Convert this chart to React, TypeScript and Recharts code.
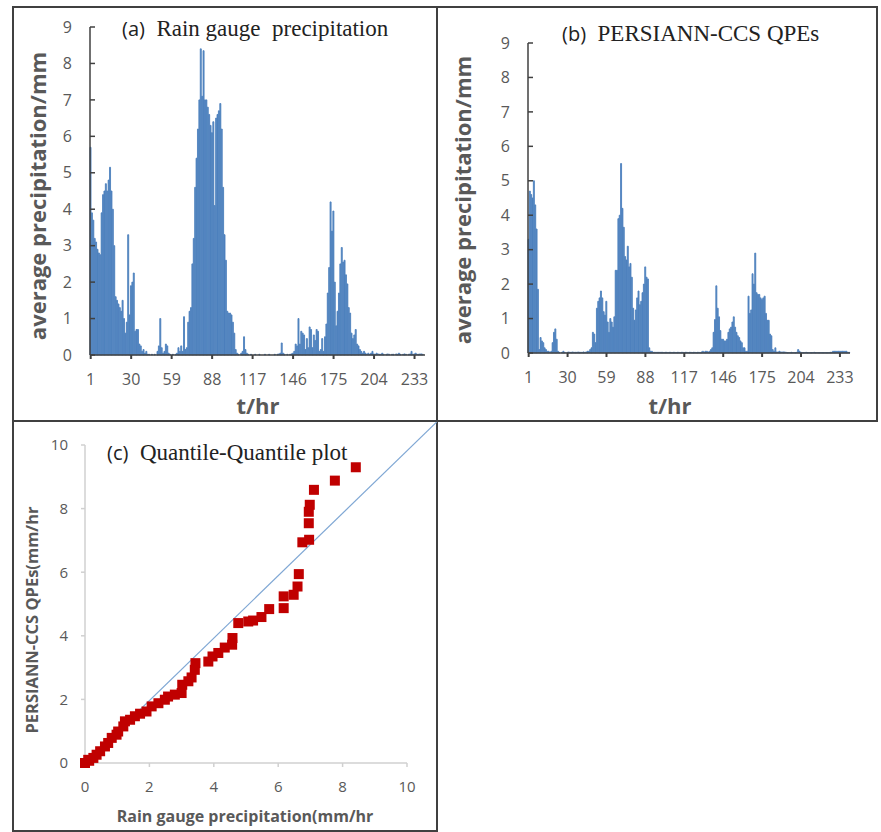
import React from 'react';
import { BarChart, Bar, XAxis, YAxis, ScatterChart, Scatter, ReferenceLine } from 'recharts';

// hourly time steps 1..240
const hours = Array.from({ length: 240 }, (_, i) => i + 1);

// (a) rain gauge average precipitation, mm
const gaugePrecip = [
  5.7, 3.9, 3.7, 3.2, 3.1, 2.9, 2.8, 2.75, 3.9, 4.4, 4.5, 4.7, 4.5, 4.8, 5.15, 4.5, 4.0, 3.0, 1.6, 1.5,
  1.4, 1.3, 1.2, 1.5, 1.0, 0.6, 0.9, 3.3, 1.1, 1.9, 2.0, 2.25, 0.65, 0.7, 0.7, 0.3, 0.25, 0.1, 0.15, 0.05,
  0.1, 0.02, 0.02, 0, 0.02, 0, 0.02, 0, 0.1, 0.25, 1.0, 0.2, 0.05, 0.1, 0.3, 0.25, 0.05, 0.02, 0, 0.02,
  0, 0.02, 0.05, 0.2, 0.1, 0.25, 0.1, 1.05, 0.15, 0.2, 0.9, 1.2, 1.3, 2.5, 3.2, 4.6, 5.4, 6.2, 7.0, 8.4,
  7.1, 8.35, 7.0, 7.0, 6.8, 6.6, 6.3, 6.1, 6.4, 4.1, 6.5, 6.6, 6.7, 6.9, 6.2, 4.6, 3.3, 2.6, 1.2, 1.15,
  1.15, 1.1, 0.9, 0.6, 0.15, 0.05, 0.02, 0, 0.05, 0.1, 0.5, 0.15, 0.05, 0.02, 0, 0.02, 0, 0, 0.02, 0,
  0, 0.02, 0, 0, 0, 0.02, 0, 0, 0.02, 0, 0, 0, 0.02, 0, 0.02, 0.03, 0.05, 0.33, 0.05, 0.02,
  0, 0.02, 0, 0.02, 0.03, 0.05, 0.1, 0.3, 0.25, 1.0, 0.3, 0.65, 0.6, 0.55, 0.15, 0.45, 0.2, 0.77, 0.7, 0.2,
  0.55, 0.4, 0.7, 0.65, 0.1, 0.15, 0.45, 0.1, 0.5, 0.85, 1.7, 2.4, 4.2, 3.4, 3.95, 2.0, 0.8, 1.2, 1.7, 2.5,
  2.95, 2.55, 2.6, 2.2, 1.95, 1.3, 1.15, 0.6, 0.45, 0.55, 0.7, 0.3, 0.25, 0.15, 0.1, 0.05, 0.1, 0.05, 0.02, 0.05,
  0.02, 0.05, 0.1, 0.03, 0.02, 0.05, 0.03, 0.02, 0.02, 0.05, 0.02, 0, 0.02, 0.03, 0.02, 0, 0.02, 0.02, 0, 0.03,
  0.02, 0.05, 0.02, 0, 0.02, 0.03, 0.02, 0, 0.02, 0.03, 0.1, 0.02, 0.03, 0.05, 0.02, 0.02, 0.03, 0.03, 0.02, 0,
];

// (b) PERSIANN-CCS average precipitation, mm
const persiannPrecip = [
  3.3, 4.7, 4.6, 4.5, 5.0, 4.3, 3.6, 1.85, 0.1, 0.45, 0.35, 0.3, 0.15, 0.1, 0.05, 0.05, 0.02, 0.05, 0.3, 0.6,
  0.7, 0.4, 0.05, 0.02, 0, 0.02, 0.05, 0.02, 0, 0.02, 0.03, 0.02, 0.02, 0.03, 0.02, 0.02, 0.02, 0.03, 0.02, 0.02,
  0.02, 0.03, 0.02, 0.03, 0.05, 0.05, 0.1, 0.15, 0.6, 0.55, 0.3, 1.3, 1.5, 1.6, 1.8, 1.6, 1.2, 1.1, 1.5, 0.9,
  0.6, 1.0, 0.9, 0.75, 1.05, 2.4, 2.4, 3.9, 4.0, 5.5, 4.2, 3.65, 2.8, 2.7, 3.1, 2.5, 2.6, 2.2, 1.3, 0.95,
  1.25, 1.6, 1.8, 1.4, 1.5, 1.75, 2.0, 2.5, 2.2, 2.15, 0.15, 0.05, 0.05, 0.02, 0.02, 0.02, 0.02, 0.02, 0.02, 0.02,
  0.02, 0.01, 0.02, 0.02, 0.01, 0.02, 0.02, 0.01, 0.02, 0.02, 0.01, 0.02, 0.02, 0.01, 0.02, 0.02, 0.01, 0.02, 0.02, 0.01,
  0.02, 0.02, 0.01, 0.02, 0.02, 0.01, 0.02, 0.02, 0.01, 0.03, 0.05, 0.03, 0.05, 0.05, 0.03, 0.05, 0.1, 0.15, 0.6, 0.97,
  1.95, 1.3, 1.05, 0.65, 0.4, 0.4, 0.35, 0.35, 0.4, 0.6, 0.7, 0.75, 0.9, 1.05, 0.75, 0.6, 0.5, 0.45, 0.35, 0.3,
  0.15, 0.15, 0.05, 0.05, 1.65, 1.15, 1.25, 2.3, 2.0, 2.9, 1.75, 1.7, 1.7, 1.6, 1.55, 1.6, 1.65, 1.15, 0.95, 0.95,
  0.55, 0.5, 0.1, 0.05, 0.15, 0.03, 0.03, 0.05, 0.03, 0.03, 0.03, 0.03, 0.02, 0.01, 0.01, 0.01, 0.02, 0.01, 0.01, 0.01,
  0.02, 0.1, 0.05, 0.02, 0.01, 0.01, 0.01, 0.02, 0.01, 0.01, 0.01, 0.01, 0.01, 0.02, 0.01, 0.01, 0.01, 0.01, 0.01, 0.01,
  0.01, 0.01, 0.01, 0.01, 0.01, 0.02, 0.02, 0.05, 0.05, 0.05, 0.05, 0.05, 0.05, 0.05, 0.05, 0.05, 0.05, 0.05, 0.02, 0.02,
];

// (c) quantile pairs, mm/hr
const gaugeQuantiles = [
  0.0, 0.1, 0.13, 0.26, 0.36, 0.47, 0.62, 0.72, 0.83, 0.98, 1.03, 1.19, 1.24, 1.4, 1.55, 1.71, 1.91, 2.07,
  2.28, 2.48, 2.58, 2.79, 3.0, 3.02, 3.21, 3.31, 3.41, 3.43, 3.83, 3.96, 4.14, 4.34, 4.57, 4.58, 4.76,
  5.07, 5.22, 5.48, 5.72, 6.17, 6.17, 6.48, 6.6, 6.64, 6.75, 6.96, 6.95, 6.95, 6.98, 7.11, 7.76, 8.41,
];
const persiannQuantiles = [
  0.0, 0.1, 0.07, 0.16, 0.26, 0.37, 0.52, 0.63, 0.79, 0.89, 0.99, 1.15, 1.31, 1.36, 1.47, 1.55, 1.62, 1.78,
  1.88, 1.99, 2.09, 2.15, 2.2, 2.46, 2.57, 2.69, 2.93, 3.14, 3.19, 3.35, 3.46, 3.63, 3.72, 3.93, 4.4,
  4.45, 4.48, 4.59, 4.84, 4.87, 5.24, 5.29, 5.55, 5.94, 6.94, 7.02, 7.54, 7.9, 8.12, 8.59, 8.88, 9.3,
];

const xTicksQQ = [0, 2, 4, 6, 8, 10];
const yTicksQQ = [0, 2, 4, 6, 8, 10];
const yTicksPrecip = [0, 1, 2, 3, 4, 5, 6, 7, 8, 9];

const gaugeData = hours.map((h, i) => ({ hour: h, v: gaugePrecip[i] }));
const persiannData = hours.map((h, i) => ({ hour: h, v: persiannPrecip[i] }));
const qqData = gaugeQuantiles.map((x, i) => ({ x, y: persiannQuantiles[i] }));

const SANS = '"Open Sans", Arial, sans-serif';
const SERIF = '"Liberation Serif", "Times New Roman", serif';
const GRAY = '#595959';
const BORDER = '#404040';

const tickStyle = { fontSize: 16, fill: GRAY, fontFamily: SANS };

function Square(props: any) {
  const { cx, cy } = props;
  if (cx == null || cy == null) return null;
  return <rect x={cx - 5} y={cy - 5} width={10} height={10} fill="#C00000" />;
}

function Title({ x, y, tag, text }: { x: number; y: number; tag: string; text: string }) {
  return (
    <div style={{ position: 'absolute', left: x, top: y, whiteSpace: 'pre', color: '#222', lineHeight: 1 }}>
      <span style={{ fontFamily: SANS, fontSize: 20 }}>{tag}</span>
      <span style={{ fontFamily: SERIF, fontSize: 23 }}>{'  ' + text}</span>
    </div>
  );
}

function AxisTitle({ cx, cy, text, size, rotate }: { cx: number; cy: number; text: string; size: number; rotate?: boolean }) {
  return (
    <div
      style={{
        position: 'absolute',
        left: cx,
        top: cy,
        transform: `translate(-50%, -50%)${rotate ? ' rotate(-90deg)' : ''}`,
        whiteSpace: 'nowrap',
        fontFamily: SANS,
        fontWeight: 700,
        fontSize: size,
        color: GRAY,
        lineHeight: 1,
      }}
    >
      {text}
    </div>
  );
}

function PrecipChart({ data, width, yAxisWidth, top, right, bottom }: any) {
  return (
    <BarChart
      width={width}
      height={415}
      data={data}
      margin={{ top, right, bottom, left: 0 }}
      barCategoryGap={0}
      barGap={0}
    >
      <XAxis
        dataKey="hour"
        interval={28}
        height={30}
        tick={tickStyle}
        tickSize={4}
        tickMargin={15}
        axisLine={{ stroke: BORDER, strokeWidth: 1.5 }}
        tickLine={{ stroke: BORDER, strokeWidth: 2 }}
      />
      <YAxis
        type="number"
        domain={[0, 9]}
        ticks={yTicksPrecip}
        interval={0}
        width={yAxisWidth}
        tick={tickStyle}
        tickSize={-5}
        tickMargin={23}
        axisLine={{ stroke: BORDER, strokeWidth: 1.5 }}
        tickLine={{ stroke: BORDER, strokeWidth: 1.5 }}
      />
      <Bar dataKey="v" fill="#4A7EBB" stroke="#4F82BE" strokeWidth={0.9} isAnimationActive={false} />
    </BarChart>
  );
}

export default function App() {
  return (
    <div style={{ position: 'absolute', left: 0, top: 0, width: 881, height: 832, background: '#fff', overflow: 'hidden' }}>
      {/* panel frames */}
      <div style={{ position: 'absolute', left: 12, top: 6, width: 426, height: 416, border: `2px solid ${BORDER}`, boxSizing: 'border-box' }} />
      <div style={{ position: 'absolute', left: 436, top: 6, width: 442, height: 416, border: `2px solid ${BORDER}`, boxSizing: 'border-box' }} />
      <div style={{ position: 'absolute', left: 12, top: 420, width: 426, height: 412, border: `2px solid ${BORDER}`, boxSizing: 'border-box' }} />

      {/* (a) rain gauge */}
      <div style={{ position: 'absolute', left: 12, top: 7 }}>
        <PrecipChart data={gaugeData} width={425} yAxisWidth={78} top={20} right={12} bottom={37} />
      </div>
      <Title x={122} y={17} tag="(a)" text="Rain gauge  precipitation" />
      <AxisTitle cx={37} cy={196} text="average precipitation/mm" size={22} rotate />
      <AxisTitle cx={258} cy={405} text="t/hr" size={22} />

      {/* (b) PERSIANN-CCS */}
      <div style={{ position: 'absolute', left: 437, top: 7 }}>
        <PrecipChart data={persiannData} width={440} yAxisWidth={91} top={36} right={27} bottom={39} />
      </div>
      <Title x={562} y={22} tag="(b)" text="PERSIANN-CCS QPEs" />
      <AxisTitle cx={462} cy={200} text="average precipitation/mm" size={22} rotate />
      <AxisTitle cx={670} cy={405} text="t/hr" size={22} />

      {/* (c) Q-Q plot */}
      <div style={{ position: 'absolute', left: 12, top: 422 }}>
        <ScatterChart width={425} height={408} margin={{ top: 23, right: 30, bottom: 37, left: 0 }}>
          <XAxis
            type="number"
            dataKey="x"
            domain={[0, 10]}
            ticks={xTicksQQ}
            interval={0}
            height={30}
            tick={{ ...tickStyle, fontSize: 15 }}
            tickSize={4}
            tickMargin={14}
            axisLine={{ stroke: '#D0D0D0', strokeWidth: 1.5 }}
            tickLine={{ stroke: '#D0D0D0', strokeWidth: 1.5 }}
          />
          <YAxis
            type="number"
            dataKey="y"
            domain={[0, 10]}
            ticks={yTicksQQ}
            interval={0}
            width={73}
            tick={{ ...tickStyle, fontSize: 15 }}
            tickSize={4}
            tickMargin={13}
            axisLine={{ stroke: '#D0D0D0', strokeWidth: 1.5 }}
            tickLine={{ stroke: '#D0D0D0', strokeWidth: 1.5 }}
          />
          <ReferenceLine
            segment={[{ x: 0, y: 0 }, { x: 10.93, y: 10.73 }]}
            stroke="#7FA7D4"
            strokeWidth={1.2}
            ifOverflow="visible"
          />
          <Scatter data={qqData} shape={Square} isAnimationActive={false} />
        </ScatterChart>
      </div>
      <Title x={107} y={441} tag="(c)" text="Quantile-Quantile plot" />
      <AxisTitle cx={32} cy={620} text="PERSIANN-CCS QPEs(mm/hr" size={16.5} rotate />
      <AxisTitle cx={245} cy={816} text="Rain gauge precipitation(mm/hr" size={16} />
    </div>
  );
}
